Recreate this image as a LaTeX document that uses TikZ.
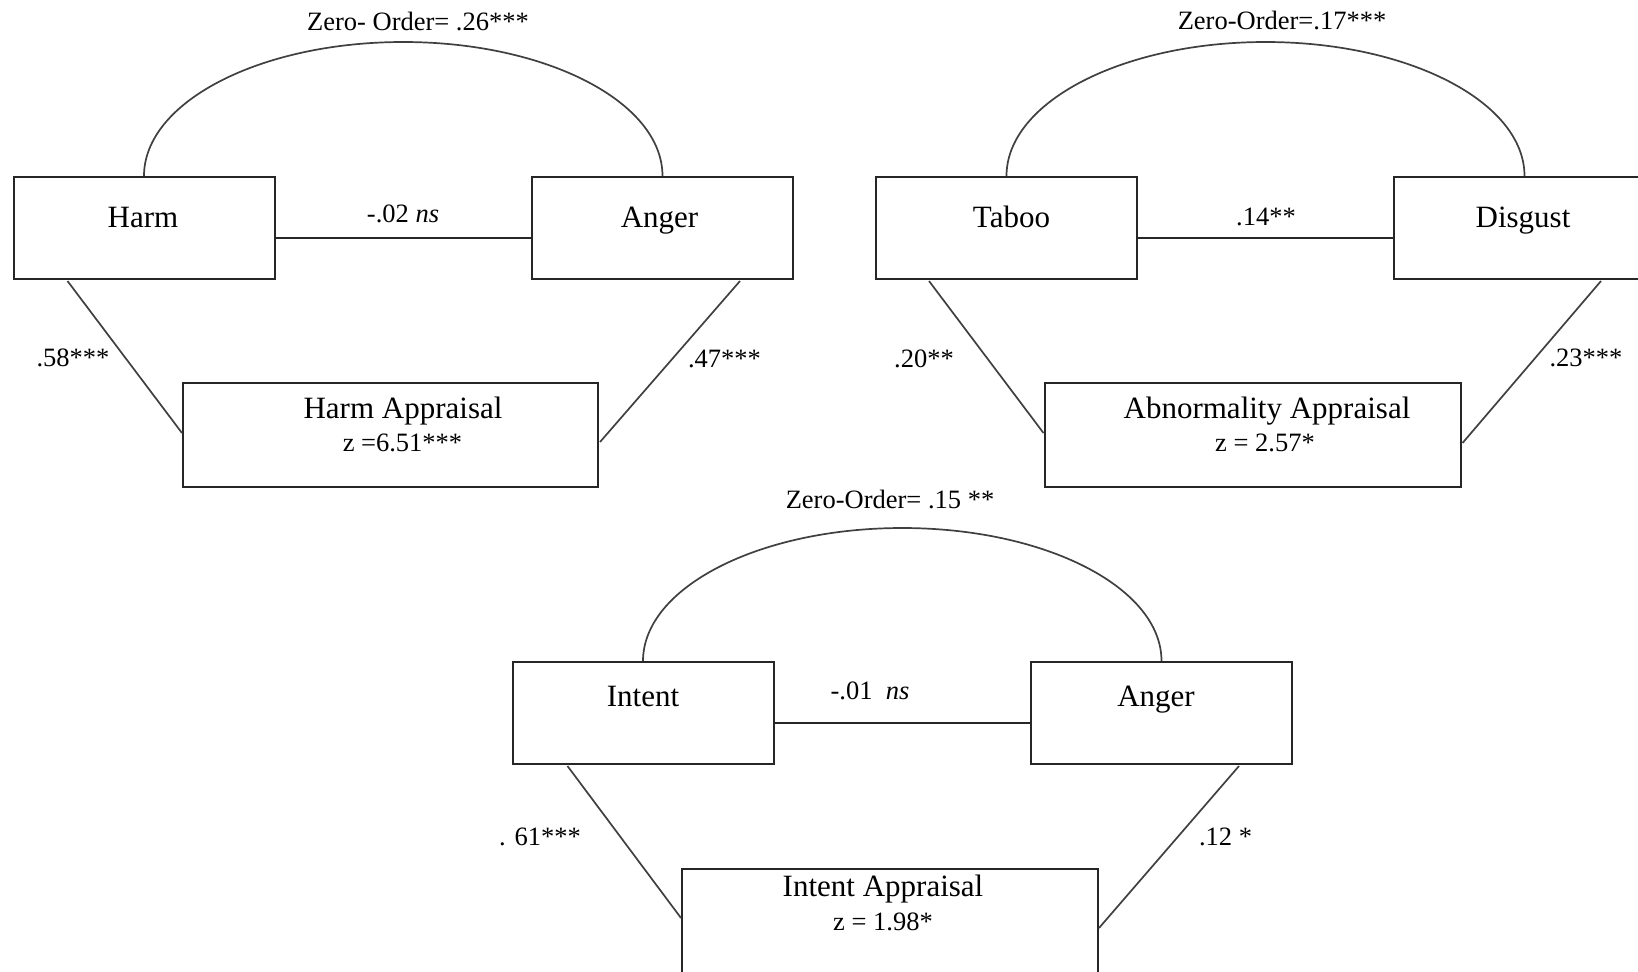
\documentclass[tikz,border=0pt]{standalone}
\usepackage{fontspec}
\setmainfont{Liberation Serif}
\usetikzlibrary{calc}
\definecolor{boxline}{HTML}{262626}
\definecolor{linkcol}{HTML}{404040}
\begin{document}
\begin{tikzpicture}[x=0.5pt,y=-0.5pt,
  box/.style={draw=boxline,line width=1pt,minimum width=130.5pt,minimum height=51pt,inner sep=0pt},
  abox/.style={box,minimum width=208pt,minimum height=52pt},
  big/.style={font=\fontsize{15.5}{18}\selectfont,inner sep=0pt,anchor=base},
  small/.style={font=\fontsize{13.25}{16}\selectfont,inner sep=0pt,anchor=base},
  hline/.style={draw=boxline,line width=1pt},
  link/.style={draw=linkcol,line width=0.85pt},
  arcline/.style={draw=linkcol,line width=0.85pt}]
\useasboundingbox (0,0) rectangle (1638,971);
\clip (0,0) rectangle (1638,971);
\fill[white] (0,0) rectangle (1638,971);

% ---------- Diagram 1 ----------
\node[box] (harm) at (144,228) {};
\node[box] (anger) at (662.5,228) {};
\node[abox,minimum width=207.5pt] (ha) at (390.5,435) {};
\node[big] (harmt) at (143,227) {Harm};
\node[big] (angert) at (659.5,227) {Anger};
\node[big] (hat) at (403,418) {Harm Appraisal};
\node[small] (haz) at (402.5,451) {z =6.51***};
\node[small] (zo1) at (418,30.7) {Zero- Order= .26***};
\node[small] (l1) at (403,222.7) {-.02 \textit{ns}};
\node[small] (l2) at (73,366.7) {.58***};
\node[small] (l3) at (724.5,367) {.47***};
\draw[arcline] let \p1=($(anger.north)-(harm.north)$) in
  (harm.north) arc[start angle=180,end angle=0,x radius=0.5*\x1,y radius=67pt];
\draw[hline] ($(harm.east)+(0,10)$) -- ($(anger.west)+(0,10)$);
\draw[link] ($(harm.south west)+(55,1)$) -- ($(ha.west)+(0,-2)$);
\draw[link] ($(anger.south east)+(-54,1)$) -- ($(ha.east)+(1,7)$);

% ---------- Diagram 2 ----------
\node[box] (taboo) at (1006.5,228) {};
\node[box] (disgust) at (1524.5,228) {};
\node[abox] (aa) at (1252.5,435) {};
\node[big] (taboot) at (1011.5,227) {Taboo};
\node[big] (disgustt) at (1523,227) {Disgust};
\node[big] (aat) at (1267,418) {Abnormality Appraisal};
\node[small] (aaz) at (1265,451) {z = 2.57*};
\node[small] (zo2) at (1282,29) {Zero-Order=.17***};
\node[small] (l4) at (1266,225) {.14**};
\node[small] (l5) at (924,367) {.20**};
\node[small] (l6) at (1586,366.7) {.23***};
\draw[arcline] let \p1=($(disgust.north)-(taboo.north)$) in
  (taboo.north) arc[start angle=180,end angle=0,x radius=0.5*\x1,y radius=67pt];
\draw[hline] ($(taboo.east)+(0,10)$) -- ($(disgust.west)+(0,10)$);
\draw[link] ($(taboo.south west)+(54,1)$) -- ($(aa.west)+(0,-2)$);
\draw[link] ($(disgust.south west)+(208,1)$) -- ($(aa.east)+(1,8)$);

% ---------- Diagram 3 ----------
\node[box] (intent) at (643,713) {};
\node[box] (anger2) at (1161.5,713) {};
\node[abox] (ia) at (890,921) {};
\node[big] (intentt) at (643,706.7) {Intent};
\node[big] (anger2t) at (1156,706.7) {Anger};
\node[big] (iat) at (883,896.7) {Intent Appraisal};
\node[small] (iaz) at (883,930) {z = 1.98*};
\node[small] (zo3) at (890,508) {Zero-Order= .15 **};
\node[small] (l7) at (870,699) {-.01\enspace\textit{ns}};
\node[small] (l8) at (540,845) {. 61***};
\node[small] (l9) at (1225.5,845) {.12 *};
\draw[arcline] let \p1=($(anger2.north)-(intent.north)$) in
  (intent.north) arc[start angle=180,end angle=0,x radius=0.5*\x1,y radius=66.5pt];
\draw[hline] ($(intent.east)+(0,10)$) -- ($(anger2.west)+(0,10)$);
\draw[link] ($(intent.south west)+(56,1)$) -- ($(ia.west)+(0,-3)$);
\draw[link] ($(anger2.south east)+(-54,1)$) -- ($(ia.east)+(0,7)$);
\end{tikzpicture}
\end{document}
